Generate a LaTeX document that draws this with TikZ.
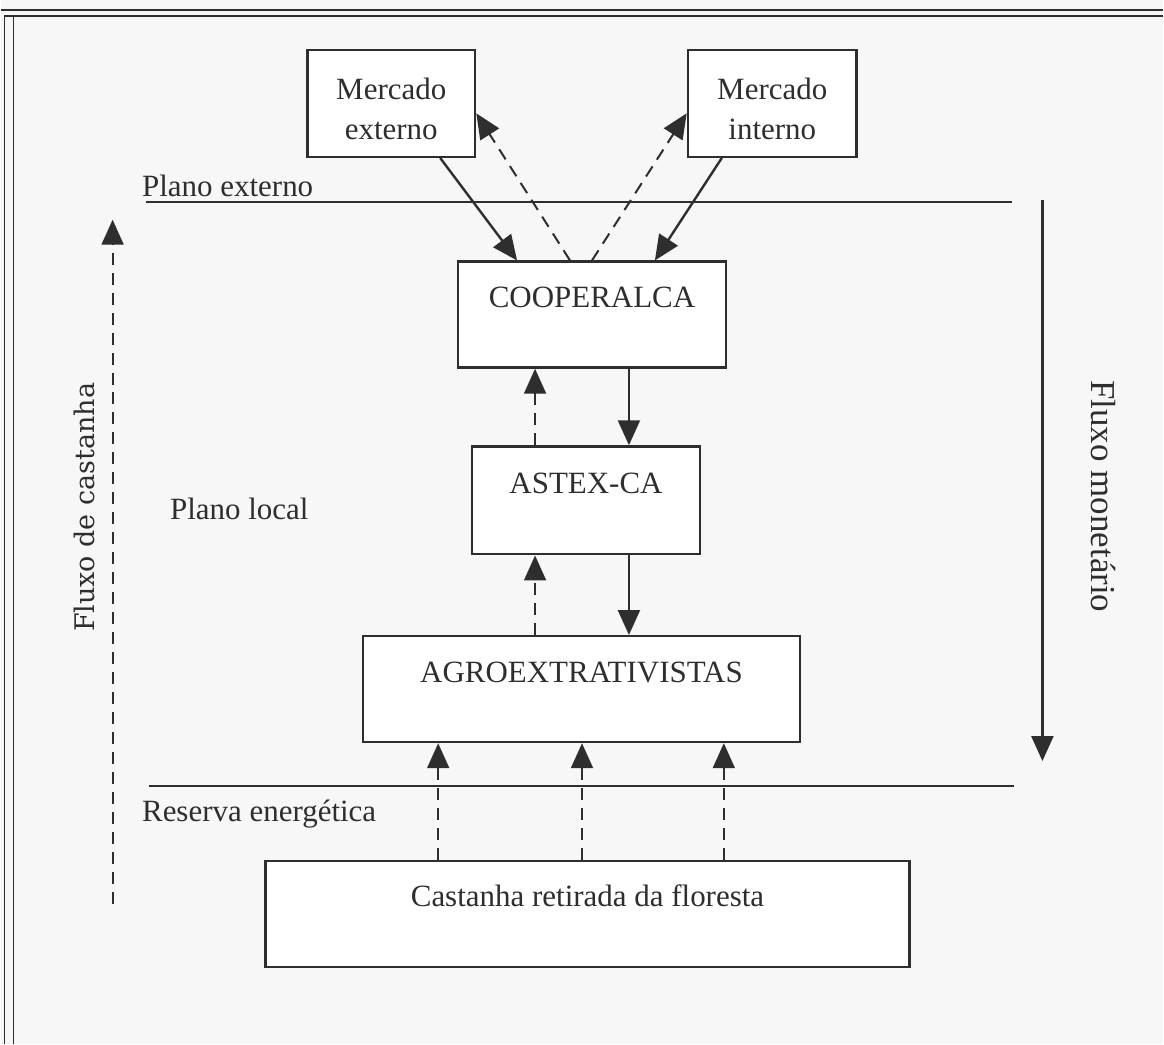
\documentclass[tikz,border=0pt]{standalone}
\usepackage{fontspec}
\setmainfont{Liberation Serif}
\newfontfamily\labelfont{DejaVu Serif}
\usetikzlibrary{arrows.meta}

\definecolor{ink}{HTML}{2E2E2E}
\definecolor{paper}{HTML}{F6F7F6}

\begin{document}
\begin{tikzpicture}[x=1pt, y=-1pt,
  every node/.style={text=ink, font=\fontsize{31}{40}\selectfont},
  box/.style={draw=ink, line width=2.4pt, fill=white, align=center, minimum height=106pt},
  high/.style={text height=22pt, text depth=36pt},
  money/.style={draw=ink, line width=2.4pt, -{Triangle[width=22pt,length=25pt]}},
  nut/.style={draw=ink, line width=2pt, dash pattern=on 12pt off 8pt, -{Triangle[width=22pt,length=25pt]}},
  plane/.style={draw=ink, line width=2.4pt}]
  % page and frame
  \fill[paper] (0,0) rectangle (1164,1045);
  \draw[ink, line width=1.5pt] (0,10) -- (1164,10);
  \draw[ink, line width=1.5pt] (1164,16) -- (4,16) -- (4,1045);
  \draw[ink, line width=1.2pt] (13,16) -- (13,1045);

  \node[box, minimum width=168pt, minimum height=107pt] (ext) at (391,103.5) {\rule{0pt}{32pt}Mercado\\externo};
  \node[box, minimum width=169pt, minimum height=107pt] (int) at (772.5,103.5) {\rule{0pt}{32pt}Mercado\\interno};
  \node[box, high, minimum width=268pt] (coop) at (592,315) {COOPERALCA};
  \node[box, high, minimum width=228pt, minimum height=108pt] (astex) at (586,501) {ASTEX-CA};
  \node[box, high, minimum width=437pt] (agro) at (581.5,690) {AGROEXTRATIVISTAS};
  \node[box, high, minimum width=645pt] (cast) at (587.5,915) {Castanha retirada da floresta};

  \node[anchor=west] (pext) at (138,186) {Plano externo};
  \node[anchor=west] (ploc) at (166,510) {Plano local};
  \node[anchor=west] (res) at (138,815) {Reserva energética};
  \node[rotate=90, font=\labelfont\fontsize{27}{30}\selectfont] (fc) at (84,508) {Fluxo de castanha};
  \node[rotate=-90, font=\fontsize{35}{40}\selectfont] (fm) at (1104,497) {Fluxo monetário};

  \coordinate (pe-l) at (145,202);
  \coordinate (pe-r) at (1013,202);
  \coordinate (re-l) at (148,787);
  \coordinate (re-r) at (1015,787);
  \draw[plane] (pe-l) -- (pe-r);
  \draw[plane] (re-l) -- (re-r);

  % x positions of the connectors
  \coordinate (xa) at (440,0);
  \coordinate (xb) at (517,0);
  \coordinate (xc) at (570,0);
  \coordinate (xd) at (592,0);
  \coordinate (xe) at (655,0);
  \coordinate (xf) at (722,0);
  \coordinate (up) at (535,0);
  \coordinate (dn) at (629,0);
  \coordinate (c1) at (438,0);
  \coordinate (c2) at (582,0);
  \coordinate (c3) at (724,0);

  \draw[money] (ext.south -| xa) -- (coop.north -| xb);
  \draw[money] (int.south -| xf) -- (coop.north -| xe);
  \draw[nut] (coop.north -| xc) -- ([yshift=-10pt]ext.east);
  \draw[nut] (coop.north -| xd) -- ([yshift=-10pt]int.west);

  \draw[money] (coop.south -| dn) -- (astex.north -| dn);
  \draw[money] (astex.south -| dn) -- (agro.north -| dn);
  \draw[nut] (astex.north -| up) -- (coop.south -| up);
  \draw[nut] (agro.north -| up) -- (astex.south -| up);

  \draw[nut] (cast.north -| c1) -- (agro.south -| c1);
  \draw[nut] (cast.north -| c2) -- (agro.south -| c2);
  \draw[nut] (cast.north -| c3) -- (agro.south -| c3);

  \coordinate (nb) at (112,905);
  \coordinate (nt) at (112,220);
  \coordinate (mt) at (1043,200);
  \coordinate (mb) at (1043,762);
  \draw[nut] (nb) -- (nt);
  \draw[money] (mt) -- (mb);
\end{tikzpicture}
\end{document}
